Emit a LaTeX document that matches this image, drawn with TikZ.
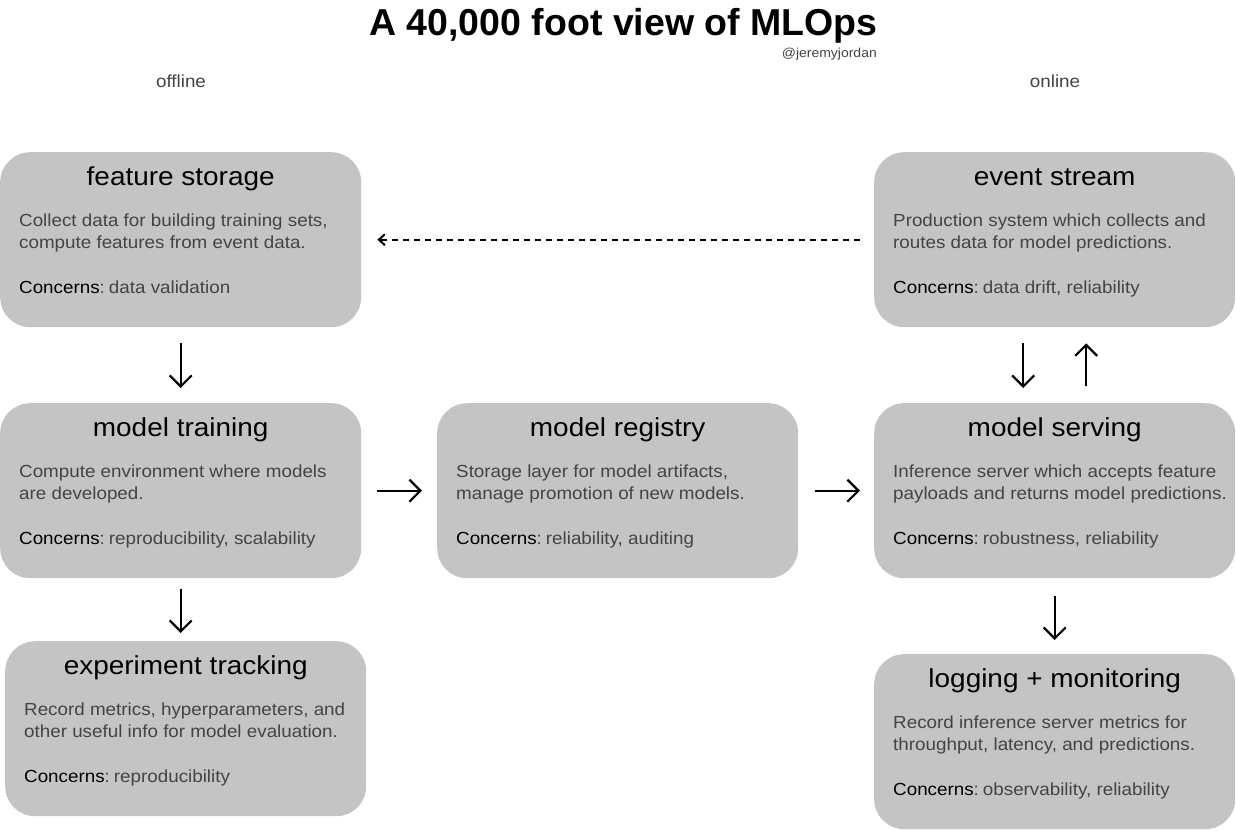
\documentclass[tikz,border=0pt]{standalone}
\usepackage{fontspec}
\setmainfont[FakeStretch=1.075]{Liberation Sans}
\newfontfamily\headfont{Liberation Sans}
\usetikzlibrary{arrows.meta,calc}
\definecolor{boxgray}{HTML}{C4C4C4}
\definecolor{bodygray}{HTML}{444444}
\tikzset{
  mlbox/.style={fill=boxgray, draw=none, rounded corners=30pt, minimum width=361pt, minimum height=175pt, inner sep=0pt, anchor=north west},
  boxtitle/.style={anchor=base, font=\fontsize{26}{30}\selectfont, text=black, inner sep=0pt},
  bodytext/.style={anchor=base west, font=\fontsize{17.5}{22}\selectfont, text=bodygray, inner sep=0pt},
  flow/.style={line width=2.2pt, -{Straight Barb[length=11pt,width=22pt,line width=2.2pt]}},
  feed/.style={line width=1.9pt, dash pattern=on 6pt off 5pt, -{Straight Barb[length=6pt,width=11pt,line width=2pt]}},
}
\newcommand\mlcontent[5]{%
  \node[boxtitle] (#1-title) at ($(#1.north)+(0,33)$) {#2};
  \node[bodytext] (#1-l1) at ($(#1.north west)+(19,74)$) {#3};
  \node[bodytext] (#1-l2) at ($(#1.north west)+(19,96)$) {#4};
  \node[bodytext] (#1-c) at ($(#1.north west)+(19,141)$) {\textcolor{black}{Concerns}:\hspace{4pt}#5};
}
\begin{document}
\begin{tikzpicture}[x=1pt,y=-1pt]
\useasboundingbox (0,0) rectangle (1236,830);
\fill[white] (0,0) rectangle (1236,830);

\node[anchor=base, font=\headfont\fontsize{37.5}{40}\selectfont\bfseries, inner sep=0pt] (title) at (623.5,35) {A 40,000 foot view of MLOps};
\node[anchor=base east, font=\fontsize{13}{15}\selectfont, text=bodygray, inner sep=0pt] (author) at (877,57) {@jeremyjordan};
\node[anchor=base, font=\fontsize{17.5}{20}\selectfont, text=bodygray, inner sep=0pt] (offline) at (181,87) {offline};
\node[anchor=base, font=\fontsize{17.5}{20}\selectfont, text=bodygray, inner sep=0pt] (online) at (1055,87) {online};

\node[mlbox] (fs) at (0,152) {};
\node[mlbox] (mt) at (0,403) {};
\node[mlbox] (et) at (5,641) {};
\node[mlbox] (mr) at (437,403) {};
\node[mlbox] (es) at (874,152) {};
\node[mlbox] (ms) at (874,403) {};
\node[mlbox] (lm) at (874,654) {};

\mlcontent{fs}{feature storage}{Collect data for building training sets,}{compute features from event data.}{data validation}
\mlcontent{mt}{model training}{Compute environment where models}{are developed.}{reproducibility, scalability}
\mlcontent{et}{experiment tracking}{Record metrics, hyperparameters, and}{other useful info for model evaluation.}{reproducibility}
\mlcontent{mr}{model registry}{Storage layer for model artifacts,}{manage promotion of new models.}{reliability, auditing}
\mlcontent{es}{event stream}{Production system which collects and}{routes data for model predictions.}{data drift, reliability}
\mlcontent{ms}{model serving}{Inference server which accepts feature}{payloads and returns model predictions.}{robustness, reliability}
\mlcontent{lm}{logging + monitoring}{Record inference server metrics for}{throughput, latency, and predictions.}{observability, reliability}

\draw[flow, shorten <=16pt, shorten >=15pt] (fs.south) -- (mt.north);
\draw[flow, shorten <=11pt, shorten >=8pt] (mt.south) -- (mt.south |- et.north);
\draw[flow, shorten <=16pt, shorten >=15pt] (mt.east) -- (mr.west);
\draw[flow, shorten <=17pt, shorten >=14pt] (mr.east) -- (ms.west);
\draw[flow, shorten <=16pt, shorten >=15pt] ($(es.south)+(-31.5,0)$) -- ($(ms.north)+(-31.5,0)$);
\draw[flow, shorten <=17pt, shorten >=16pt] ($(ms.north)+(31.5,0)$) -- ($(es.south)+(31.5,0)$);
\draw[flow, shorten <=18pt, shorten >=14pt] (ms.south) -- (lm.north);
\draw[feed, shorten <=14pt, shorten >=16pt] (es.west) -- (fs.east);
\end{tikzpicture}
\end{document}
